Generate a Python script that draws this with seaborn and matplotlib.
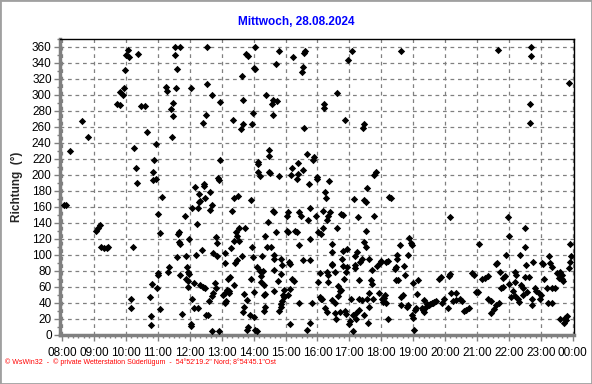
import matplotlib
matplotlib.use('Agg')
import matplotlib.pyplot as plt
import pandas as pd
import seaborn as sns
from matplotlib.patches import Rectangle
from matplotlib.ticker import MultipleLocator

# Windrichtung (Stunde als Dezimalzahl, Richtung in Grad)
vormittag = [
    (10.06, 356), (10.00, 350), (10.08, 347), (10.37, 351), (11.55, 360), (11.70, 360),
    (11.52, 350), (11.60, 332), (9.98, 331), (9.93, 309), (9.82, 304), (9.90, 300),
    (11.24, 310), (11.28, 305), (11.57, 309), (9.73, 288), (9.80, 287), (10.46, 286),
    (10.58, 286), (11.47, 290), (11.40, 282), (11.47, 274), (8.62, 267), (8.81, 247),
    (10.67, 253), (11.43, 247), (10.94, 239), (8.24, 230), (10.24, 233), (10.88, 218),
    (10.30, 209), (10.85, 203), (10.86, 194), (10.94, 195), (10.34, 190),
    (11.14, 172), (8.06, 162), (8.12, 162), (11.00, 151), (9.18, 137), (9.13, 133),
    (9.07, 130), (11.05, 127), (11.66, 128), (11.63, 126), (11.66, 116), (11.70, 113),
    (9.23, 109), (9.30, 108), (9.39, 108), (9.44, 109), (10.22, 110), (11.60, 97),
    (11.34, 85), (11.00, 77), (11.00, 74), (11.31, 78), (11.70, 74), (10.81, 63),
    (10.97, 58), (10.14, 44), (10.76, 47), (10.16, 33), (11.06, 32), (11.75, 26),
    (10.77, 23), (10.78, 12),
    (11.84, 148), (11.98, 119), (11.87, 98), (11.90, 85), (11.95, 78), (11.97, 76),
    (11.87, 70), (11.93, 67), (11.93, 60),
]

mittag = [
    (12.55, 360), (13.76, 351), (13.83, 349), (14.05, 360), (14.79, 355), (15.61, 355),
    (15.59, 352), (15.22, 347), (14.70, 338), (14.02, 333), (14.04, 332), (15.54, 335),
    (15.50, 328), (13.62, 323), (12.03, 309), (12.55, 314), (12.68, 300), (12.95, 291),
    (13.65, 293), (14.40, 300), (14.60, 293), (14.56, 288), (14.72, 292), (13.97, 277),
    (14.60, 275), (12.50, 275), (12.40, 265), (13.34, 268), (13.65, 264), (13.94, 264),
    (13.59, 257), (15.59, 258), (14.47, 231), (14.47, 223), (12.94, 219), (14.15, 216),
    (14.13, 213), (15.67, 226), (15.89, 222), (15.86, 219), (15.38, 215), (14.13, 204),
    (14.20, 198), (14.49, 204), (14.50, 202), (14.79, 198), (15.20, 209), (15.56, 206),
    (15.17, 200), (15.38, 201), (15.35, 195), (15.72, 188), (12.87, 196), (12.91, 194),
    (12.43, 189), (12.43, 186), (12.17, 185), (15.99, 197), (15.97, 195),
    (12.63, 178), (12.28, 176), (12.33, 167), (12.28, 166), (12.47, 171), (13.39, 171),
    (13.50, 173), (13.92, 168), (12.69, 162), (12.63, 156), (12.08, 158), (12.27, 158),
    (13.32, 155), (14.60, 155), (14.64, 153), (15.07, 153), (15.05, 148), (15.43, 153),
    (15.47, 149), (15.78, 158), (15.70, 144), (15.94, 149), (14.44, 141), (12.21, 138),
    (13.55, 134), (13.73, 133), (13.45, 128), (13.47, 123), (13.54, 117), (13.39, 117),
    (14.37, 123), (14.69, 128), (15.05, 130), (15.09, 129), (15.31, 130), (15.35, 129),
    (15.78, 120), (15.41, 112), (12.82, 122), (12.84, 115), (12.37, 106), (13.29, 108),
    (13.94, 110), (14.41, 110), (14.55, 110), (12.18, 100), (12.74, 102), (12.84, 98),
    (13.10, 102), (13.62, 98), (13.98, 97), (14.25, 98), (14.65, 100), (14.65, 94),
    (14.85, 95), (15.10, 91), (15.14, 88), (15.54, 93), (15.76, 93), (13.11, 90),
    (13.41, 90), (13.47, 93), (14.90, 87), (14.09, 84), (14.21, 80), (14.30, 79),
    (14.63, 81), (14.86, 76), (13.25, 72), (13.21, 69), (14.23, 73), (14.23, 66),
    (13.92, 69), (15.20, 70), (15.25, 67), (14.75, 67), (12.14, 64), (12.33, 62),
    (12.42, 60), (12.47, 58), (12.79, 65), (13.39, 62), (14.32, 62), (12.82, 58),
    (12.73, 52), (12.70, 48), (13.16, 56), (13.24, 54), (13.22, 52), (13.10, 52),
    (13.03, 50), (13.69, 51), (14.00, 53), (14.37, 51), (14.32, 49), (14.63, 55),
    (14.96, 56), (15.15, 57), (15.07, 49), (14.93, 50), (14.96, 47), (12.08, 45),
    (12.59, 42), (13.13, 42), (13.09, 39), (13.80, 43), (15.41, 40), (15.83, 39),
    (14.90, 42), (14.87, 38), (14.85, 34), (14.80, 29), (13.70, 34), (13.67, 28),
    (14.34, 34), (14.32, 29), (12.12, 33), (12.24, 33), (12.52, 25), (12.58, 24),
    (13.87, 24), (14.00, 22), (12.05, 13), (12.03, 11), (12.68, 5), (12.90, 5),
    (13.81, 10), (13.79, 6), (14.04, 6), (14.09, 5), (15.15, 13), (15.76, 15), (15.67, 6),
]

nachmittag = [
    (17.09, 355), (18.63, 355), (16.96, 344), (16.61, 302), (16.21, 288), (16.21, 283),
    (16.87, 269), (17.47, 263), (17.43, 258), (16.37, 192), (17.83, 204), (17.78, 200),
    (17.56, 184),
    (16.25, 179), (16.28, 171), (17.15, 170), (17.46, 169), (17.51, 166), (18.24, 172),
    (18.29, 171), (16.18, 155), (16.39, 153), (16.34, 148), (16.30, 144), (16.75, 151),
    (16.79, 150), (17.28, 147), (17.78, 149), (16.02, 128), (16.10, 126), (16.18, 133),
    (16.62, 133), (17.52, 130), (17.47, 116), (17.52, 109), (16.46, 113), (16.93, 107),
    (16.80, 105), (16.44, 103), (17.25, 103), (17.17, 98), (17.38, 95), (17.33, 91),
    (17.60, 95), (17.99, 92), (17.96, 90), (18.14, 91), (18.20, 92), (18.48, 100),
    (18.50, 95), (18.88, 121), (18.93, 115), (18.96, 112), (18.59, 112), (18.85, 99),
    (16.77, 94), (16.44, 88), (16.47, 87), (16.80, 86), (16.91, 85), (17.19, 87),
    (17.17, 83), (17.86, 86), (17.72, 81), (18.46, 84), (18.44, 82), (18.71, 86),
    (16.07, 77), (16.30, 78), (16.34, 74), (16.54, 78), (16.89, 78), (18.74, 75),
    (16.02, 66), (16.34, 66), (16.84, 70), (17.31, 68), (17.68, 68), (17.70, 63),
    (18.46, 68), (18.53, 68), (18.98, 65), (19.16, 68), (19.81, 70), (19.86, 72),
    (16.65, 61), (16.73, 56), (16.70, 55), (17.61, 52), (17.94, 52), (18.12, 50),
    (18.67, 50), (18.62, 47), (19.11, 51), (16.07, 47), (16.10, 45), (16.15, 44),
    (16.63, 48), (16.47, 43), (16.54, 40), (17.05, 45), (17.30, 45), (17.38, 43),
    (17.56, 44), (17.75, 44), (18.01, 44), (18.06, 41), (18.14, 39), (18.07, 46),
    (18.62, 37), (18.83, 37), (18.80, 34), (19.10, 33), (19.05, 31), (19.35, 43),
    (19.27, 33), (19.32, 31), (19.35, 28), (19.40, 35), (19.42, 38), (19.48, 37),
    (19.52, 38), (19.58, 39), (19.62, 40), (19.65, 41), (19.70, 42), (19.95, 44),
    (19.90, 39), (17.62, 35), (16.23, 33), (16.30, 28), (17.31, 31), (17.22, 27),
    (16.54, 27), (16.58, 20), (16.70, 28), (16.86, 29), (16.88, 26), (17.10, 24),
    (17.46, 25), (17.02, 17), (16.98, 13), (17.12, 5), (17.20, 19), (17.59, 14),
    (18.22, 19), (19.00, 21), (18.95, 24), (19.03, 6),
]

abend = [
    (21.67, 356), (22.69, 360), (22.69, 348), (23.87, 315), (22.66, 289), (22.66, 265),
    (20.14, 147), (21.97, 147), (22.49, 133), (22.00, 124), (21.07, 113), (22.49, 110),
    (23.90, 113), (21.92, 99), (22.35, 100), (23.25, 98), (23.95, 98), (21.62, 90),
    (21.60, 88), (22.55, 87), (22.76, 91), (23.04, 89), (23.06, 88), (23.30, 89),
    (23.35, 85), (23.92, 91), (23.89, 83), (20.16, 76), (20.12, 73), (20.84, 77),
    (20.92, 75), (21.73, 78), (22.19, 78), (22.21, 74), (21.33, 73), (21.26, 71),
    (21.16, 69), (21.88, 73), (21.83, 71), (22.49, 72), (22.63, 72), (23.09, 69),
    (23.51, 77), (23.61, 78), (23.66, 75), (23.58, 71), (23.66, 69), (23.71, 67),
    (22.18, 66), (22.00, 63), (22.37, 62), (22.44, 58), (21.80, 60), (21.75, 58),
    (22.81, 58), (22.85, 55), (22.94, 52), (23.02, 50), (23.20, 58), (23.35, 58),
    (23.44, 58), (22.58, 53), (20.17, 52), (20.35, 52), (20.97, 53), (21.02, 53),
    (22.14, 55), (22.06, 47), (22.19, 48), (22.27, 45), (22.32, 41), (22.45, 49),
    (22.97, 44), (22.71, 44), (22.73, 37), (23.23, 39), (23.35, 40), (20.09, 33),
    (20.25, 42), (20.35, 43), (20.46, 44), (20.54, 42), (21.36, 44), (21.44, 42),
    (21.69, 40), (21.59, 37), (21.52, 32), (21.44, 27), (20.60, 29), (20.67, 31),
    (20.76, 33), (23.59, 20), (23.77, 21), (23.82, 23), (23.79, 18), (23.74, 15),
]

stunden_ticks = list(range(8, 25))
zeit_labels = [f'{h % 24:02d}:00' for h in stunden_ticks]
richtung_ticks = list(range(0, 361, 20))

titel = 'Mittwoch, 28.08.2024'
fusszeile = ('\u00a9 WsWin32  -  \u00a9 private Wetterstation S\u00fcderl\u00fcgum  -  '
             '54\u00b052\'19.2" Nord; 8\u00b054\'45.1"Ost')

df = pd.DataFrame(vormittag + mittag + nachmittag + abend, columns=['stunde', 'richtung'])

sns.set_theme(style='white')
plt.rcParams['font.family'] = ['Liberation Sans', 'DejaVu Sans']

fig = plt.figure(figsize=(5.92, 3.84), dpi=100)
fig.patch.set_facecolor('white')
ax = fig.add_axes([60 / 592, 49 / 384, 514 / 592, 296.5 / 384])

sns.scatterplot(data=df, x='stunde', y='richtung', marker='D', s=14,
                color='black', linewidth=0, ax=ax, zorder=3)

ax.set_xlim(7.93, 24.04)
ax.set_ylim(-0.5, 370.5)
ax.set_xticks(stunden_ticks)
ax.set_xticklabels(zeit_labels)
ax.set_yticks(richtung_ticks)
ax.xaxis.set_minor_locator(MultipleLocator(1 / 6))
ax.yaxis.set_minor_locator(MultipleLocator(10))

ax.grid(True, which='major', color='#808080', linestyle=(0, (3, 3)), linewidth=0.9)
ax.set_axisbelow(True)

for side in ['left', 'bottom']:
    ax.spines[side].set_color('#808080')
    ax.spines[side].set_linewidth(2.5)
for side in ['top', 'right']:
    ax.spines[side].set_color('black')
    ax.spines[side].set_linewidth(1)

ax.tick_params(axis='both', which='major', labelsize=8.5, colors='#808080',
               labelcolor='black', length=4, width=1, direction='out', pad=2)
ax.tick_params(axis='x', which='major', pad=5)
ax.tick_params(axis='both', which='minor', colors='#808080', length=2, width=1,
               direction='out')
ax.tick_params(axis='x', which='both', bottom=True)
ax.tick_params(axis='y', which='both', left=True)

ax.set_xlabel('')
ax.set_ylabel('Richtung  (\u00b0)', fontsize=8.5, fontweight='bold', labelpad=6)

fig.text(0.5, 1 - 22 / 384, titel, ha='center', va='center', color='#0000ff',
         fontsize=8.5, fontweight='bold')
fig.text(5 / 592, 1 - 362 / 384, fusszeile, ha='left', va='center', color='red',
         fontsize=5)

fig.patches.append(Rectangle((0, 0), 1, 1, transform=fig.transFigure, fill=False,
                             edgecolor='#a0a0a0', linewidth=2, zorder=10))

fig.savefig('out.png', dpi=100, facecolor='white')
